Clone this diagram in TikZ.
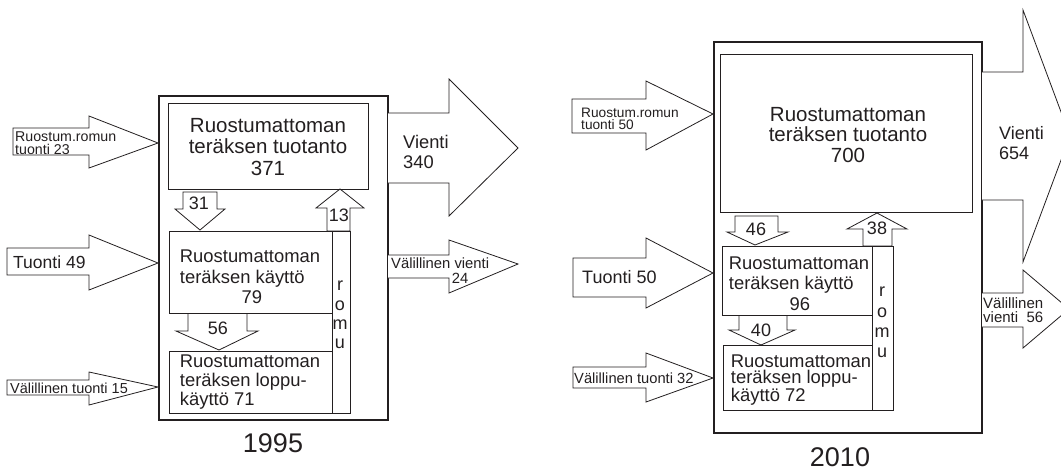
\documentclass[tikz,border=0pt]{standalone}
\usepackage{fontspec}
\setmainfont{Liberation Sans}
\usetikzlibrary{positioning}
\definecolor{ink}{HTML}{231f20}
\newcommand{\fs}[2]{\fontsize{#1}{#2}\selectfont}

\begin{document}
\begin{tikzpicture}[x=1pt, y=-1pt, line join=miter,
  frame/.style={draw=ink, line width=2.4pt},
  box/.style={draw=ink, line width=0.9pt},
  blk/.style={draw=ink, line width=0.8pt, fill=white},
  txt/.style={inner sep=0pt, text=ink, align=left},
  ttl/.style={txt, align=center, font=\fs{20.5}{21.5}},
  use/.style={txt, font=\fs{18.4}{20.5}},
  num/.style={txt, font=\fs{18}{18}},
  side/.style={txt, font=\fs{14.2}{13}},
  year/.style={txt, font=\fs{27}{27}}]
\useasboundingbox (0,0) rectangle (1061,472);
\clip (0,0) rectangle (1061,472);
% 1995
\draw[frame] (159,96) rectangle (388,420);
\draw[blk] (13,128) -- (89,128) -- (89,116) -- (158,143) -- (89,168) -- (89,155) -- (13,155) -- cycle;
\draw[blk] (7,248) -- (89,248) -- (89,235) -- (158,263) -- (89,290) -- (89,275) -- (7,275) -- cycle;
\draw[blk] (7,380) -- (89,380) -- (89,372) -- (158,387) -- (89,405) -- (89,395) -- (7,395) -- cycle;
\draw[blk] (388,113) -- (449,113) -- (449,79) -- (518,148) -- (449,216) -- (449,183) -- (388,183);
\draw[blk] (388,255) -- (449,255) -- (449,240) -- (518,264) -- (449,293) -- (449,278) -- (388,278);
\draw[blk] (183,192) -- (217,192) -- (217,209) -- (225,209) -- (200,230) -- (175,209) -- (183,209) -- cycle;
\draw[blk] (327,231) -- (327,208) -- (316,208) -- (340,189) -- (364,208) -- (350,208) -- (350,231) -- cycle;
\draw[blk] (188,313) -- (188,331) -- (176,331) -- (219,350) -- (258,331) -- (247,331) -- (247,313);
\node[box, minimum width=200, minimum height=86] (prodA) at (268,146) {};
\node[box, minimum width=163, minimum height=82] (useA) at (250.5,272) {};
\node[box, minimum width=163, minimum height=62] (endA) at (250.5,382) {};
\node[box, minimum width=18, minimum height=182] (scrapA) at (341,322) {};
\node[ttl] (prodAtxt) at (268,147) {Ruostumattoman\\teräksen tuotanto\\371};
\node[use] (useAtxt) at (250,277) {Ruostumattoman\\teräksen käyttö\\\hspace*{3.35em}79};
\node[use, font=\fs{18.4}{18.6}] (endAtxt) at (250,382) {Ruostumattoman\\teräksen loppu-\\käyttö 71};
\node[txt, align=center, font=\fs{18}{19.3}] (romuA) at (340,315) {r\\o\\m\\u};
\node[num] (n31) at (199,203) {31};
\node[num] (n13) at (339,215) {13};
\node[num] (n56) at (218,328) {56};
\node[side, anchor=west] (scrapInA) at (15,143) {Ruostum.romun\\tuonti 23};
\node[txt, font=\fs{17.5}{18}, anchor=west] (impA) at (13,262) {Tuonti 49};
\node[side, font=\fs{14.5}{14}, anchor=west] (indImpA) at (10,388) {Välillinen tuonti 15};
\node[txt, font=\fs{18.3}{20}, anchor=west] (expA) at (403,152) {Vienti\\340};
\node[side, font=\fs{14.8}{15}, anchor=west] (indExpA) at (391,270.5) {Välillinen vienti\\\hspace*{4.1em}24};
\node[year] (yA) at (273,443) {1995};
% 2010
\draw[frame] (714,42) rectangle (982,433);
\draw[blk] (572,99) -- (646,99) -- (646,81) -- (713,114) -- (646,150) -- (646,133) -- (572,133) -- cycle;
\draw[blk] (573,258) -- (646,258) -- (646,238) -- (713,273) -- (646,308) -- (646,297) -- (573,297) -- cycle;
\draw[blk] (573,367) -- (646,367) -- (646,353) -- (713,378) -- (646,402) -- (646,388) -- (573,388) -- cycle;
\draw[blk] (982,72) -- (1023,72) -- (1023,10) -- (1070,136) -- (1023,262) -- (1023,200) -- (982,200);
\draw[blk] (982,293) -- (1023,293) -- (1023,270) -- (1069,309) -- (1023,348) -- (1023,327) -- (982,327);
\draw[blk] (735,216) -- (778,216) -- (778,232) -- (788,232) -- (755,245) -- (727,232) -- (735,232) -- cycle;
\draw[blk] (863,246) -- (863,229) -- (847,229) -- (877,213) -- (907,229) -- (892,229) -- (892,246) -- cycle;
\draw[blk] (739,315) -- (739,330) -- (729,330) -- (761,345) -- (795,330) -- (787,330) -- (787,315);
\node[box, minimum width=252, minimum height=158] (prodB) at (846,133) {};
\node[box, minimum width=150, minimum height=69] (useB) at (797,280.5) {};
\node[box, minimum width=149, minimum height=65] (endB) at (797.5,377.5) {};
\node[box, minimum width=21, minimum height=164] (scrapB) at (882.5,328) {};
\node[ttl, font=\fs{20.5}{20.5}] (prodBtxt) at (848,135) {Ruostumattoman\\teräksen tuotanto\\700};
\node[use] (useBtxt) at (799,283.5) {Ruostumattoman\\teräksen käyttö\\\hspace*{3.3em}96};
\node[use, font=\fs{18.4}{16.5}] (endBtxt) at (801,380) {Ruostumattoman\\teräksen loppu-\\käyttö 72};
\node[txt, align=center, font=\fs{18}{20.3}] (romuB) at (882,322.5) {r\\o\\m\\u};
\node[num] (n46) at (756,229) {46};
\node[num] (n38) at (877,228) {38};
\node[num] (n40) at (761,330) {40};
\node[side, font=\fs{13.7}{12.5}, anchor=west] (scrapInB) at (581,119) {Ruostum.romun\\tuonti 50};
\node[txt, font=\fs{18}{18}, anchor=west] (impB) at (582,277) {Tuonti 50};
\node[side, font=\fs{14.7}{14}, anchor=west] (indImpB) at (574,378) {Välillinen tuonti 32};
\node[txt, font=\fs{18}{20}, anchor=west] (expB) at (999,143) {Vienti\\654};
\node[side, font=\fs{15}{14}, anchor=west] (indExpB) at (983,310) {Välillinen\\vienti\ \ 56};
\node[year] (yB) at (840,457) {2010};
\end{tikzpicture}
\end{document}
